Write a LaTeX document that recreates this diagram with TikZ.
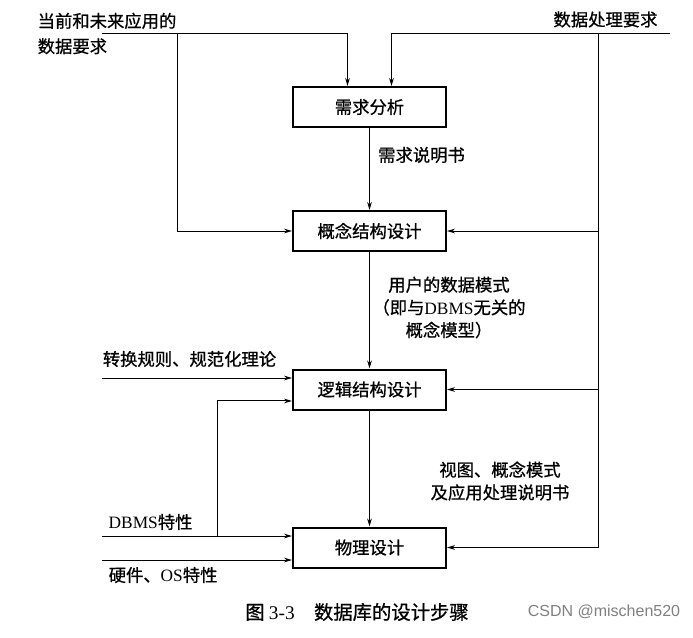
\documentclass[tikz,border=0pt]{standalone}
\usepackage{fontspec}
\setmainfont{Liberation Serif}
\newfontfamily\cjk[FakeBold=0.8]{Noto Sans CJK SC}
\newfontfamily\wmfont{Liberation Sans}
\usepackage{tikz}
\usetikzlibrary{arrows.meta,calc,positioning}
\tikzset{
  stepbox/.style={draw,line width=1.5pt,minimum width=114.75pt,
    minimum height=30pt,inner sep=0pt},
  flow/.style={-{Stealth[length=6pt,width=3.5pt]},line width=0.75pt},
  every node/.style={font=\cjk\fontsize{13}{17}\selectfont}
}
\newcommand{\lat}[1]{{\rmfamily #1}}

\begin{document}
\begin{tikzpicture}[x=0.75pt,y=-0.75pt]
  \useasboundingbox (0,0) rectangle (693,637);
  % design steps
  \node[stepbox] (req)     at (369.5,107)   {需求分析};
  \node[stepbox] (concept) at (369.5,231)   {概念结构设计};
  \node[stepbox] (logic)   at (369.5,389.5) {逻辑结构设计};
  \node[stepbox] (phys)    at (369.5,547.5) {物理设计};
  \draw[flow] (req) -- (concept);
  \draw[flow] (concept) -- (logic);
  \draw[flow] (logic) -- (phys);
  % inputs from the top
  \coordinate (inA)    at (102,33);
  \coordinate (splitA) at (177,33);
  \coordinate (inB)    at (670,33);
  \coordinate (splitB) at (598,33);
  \draw[flow] (inA) -| ([xshift=-16.5pt]req.north);
  \draw[flow] (splitA) |- (concept.west);
  \draw[flow] (inB) -| ([xshift=16.5pt]req.north);
  \draw[flow] (splitB) |- (phys.east);
  \draw[flow] (splitB |- concept.east) -- (concept.east);
  \draw[flow] (splitB |- logic.east) -- (logic.east);
  % inputs from the left
  \coordinate (inC)    at (102,378);
  \coordinate (inD)    at (102,536);
  \coordinate (inE)    at (102,560);
  \coordinate (splitD) at (217,536);
  \draw[flow] (inC) -- (inC -| logic.west);
  \draw[flow] (splitD) |- ([yshift=-8.6pt]logic.west);
  \draw[flow] (inD) -- (inD -| phys.west);
  \draw[flow] (inE) -- (inE -| phys.west);
  % labels
  \node[anchor=west,align=left] (txtA) at (33,33.5)
    {当前和未来应用的\\[2pt]数据要求};
  \node (txtB) at (605.5,19.5) {数据处理要求};
  \node (txtReq) at (421.5,155) {需求说明书};
  \node[align=center] (txtUser) at (449,307.5)
    {用户的数据模式\\（即与\lat{DBMS}无关的\\概念模型）};
  \node (txtC) at (189.5,359) {转换规则、规范化理论};
  \node[anchor=west] (txtD) at (104,522) {\lat{DBMS}特性};
  \node[anchor=west] (txtE) at (104,575) {硬件、\lat{OS}特性};
  \node[align=center] (txtView) at (500,481)
    {视图、概念模式\\及应用处理说明书};
  % caption
  \node[font=\cjk\fontsize{14.5}{17}\selectfont] (cap) at (357,612)
    {图 \lat{3-3}\quad 数据库的设计步骤};
  \node[font=\wmfont\fontsize{12}{14}\selectfont,text=gray] (mark)
    at (604,612) {CSDN @mischen520};
\end{tikzpicture}
\end{document}
